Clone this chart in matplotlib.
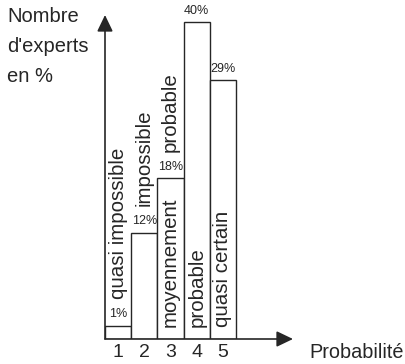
import matplotlib
matplotlib.use("Agg")
import matplotlib.pyplot as plt

# =========================
# DATA
# =========================
categories = ["1", "2", "3", "4", "5"]
pourcentages = [1, 12, 18, 40, 29]          # printed above the bars
hauteurs = [1.5, 11.9, 18.0, 35.5, 29.0]    # bar heights as drawn (same scale)
texte_dessus = ["quasi impossible", "impossible", "probable", "", ""]
texte_dedans = ["", "", "moyennement", "probable", "quasi certain"]

# =========================
# STYLE
# =========================
plt.rcParams["font.family"] = ["Liberation Sans", "DejaVu Sans"]
INK = "#262626"
W, H = 406, 364

fig = plt.figure(figsize=(W / 100, H / 100), dpi=100)
# axes box: origin at (105, 339) px, arrow tips at x=293 and y=15
ax = fig.add_axes([105 / W, 1 - 339 / H, (293 - 105) / W, (339 - 15) / H])
ax.set_xlim(0.5, 0.5 + (293 - 105) / 26.2)
ax.set_ylim(0, 324 / 8.93)
for s in ax.spines.values():
    s.set_visible(False)
ax.set_yticks([])

x = list(range(1, len(categories) + 1))
ax.bar(x, hauteurs, width=1.0, facecolor="white", edgecolor=INK, linewidth=1.0, zorder=2)

# axis arrows
arrow = dict(arrowstyle="-|>,head_length=0.5,head_width=0.24", mutation_scale=20,
             color=INK, lw=1.2, shrinkA=0, shrinkB=0)
ax.annotate("", xy=(1, 0), xytext=(0, 0), xycoords="axes fraction", arrowprops=arrow)
ax.annotate("", xy=(0, 1), xytext=(0, 0), xycoords="axes fraction", arrowprops=arrow)

# tick labels
ax.set_xticks(x, labels=categories)
ax.tick_params(axis="x", length=0, pad=3.5, labelsize=14, labelcolor=INK)

# percentages above bars
for xi, h, p in zip(x, hauteurs, pourcentages):
    ax.annotate(f"{p}%", xy=(xi, h), xytext=(0, 6), textcoords="offset points",
                ha="center", va="baseline", fontsize=9, color=INK, clip_on=False)

# rotated labels
for xi, h, t_haut, t_bas in zip(x, hauteurs, texte_dessus, texte_dedans):
    if t_haut:
        ax.annotate(t_haut, xy=(xi, h), xytext=(0, 19), textcoords="offset points",
                    rotation=90, rotation_mode="anchor", ha="left", va="center",
                    fontsize=14.8, color=INK, annotation_clip=False)
    if t_bas:
        ax.annotate(t_bas, xy=(xi, 0), xytext=(0, 8.5), textcoords="offset points",
                    rotation=90, rotation_mode="anchor", ha="left", va="center",
                    fontsize=14.8, color=INK, zorder=3)

fig.text(7 / W, 1 - 7 / H, "Nombre\nd'experts\nen %", ha="left", va="top",
         fontsize=14.5, linespacing=1.75, color=INK)
fig.text(309 / W, 1 - 353 / H, "Probabilité", ha="left", va="center",
         fontsize=14.3, color=INK)

fig.savefig("out.png", dpi=100)
